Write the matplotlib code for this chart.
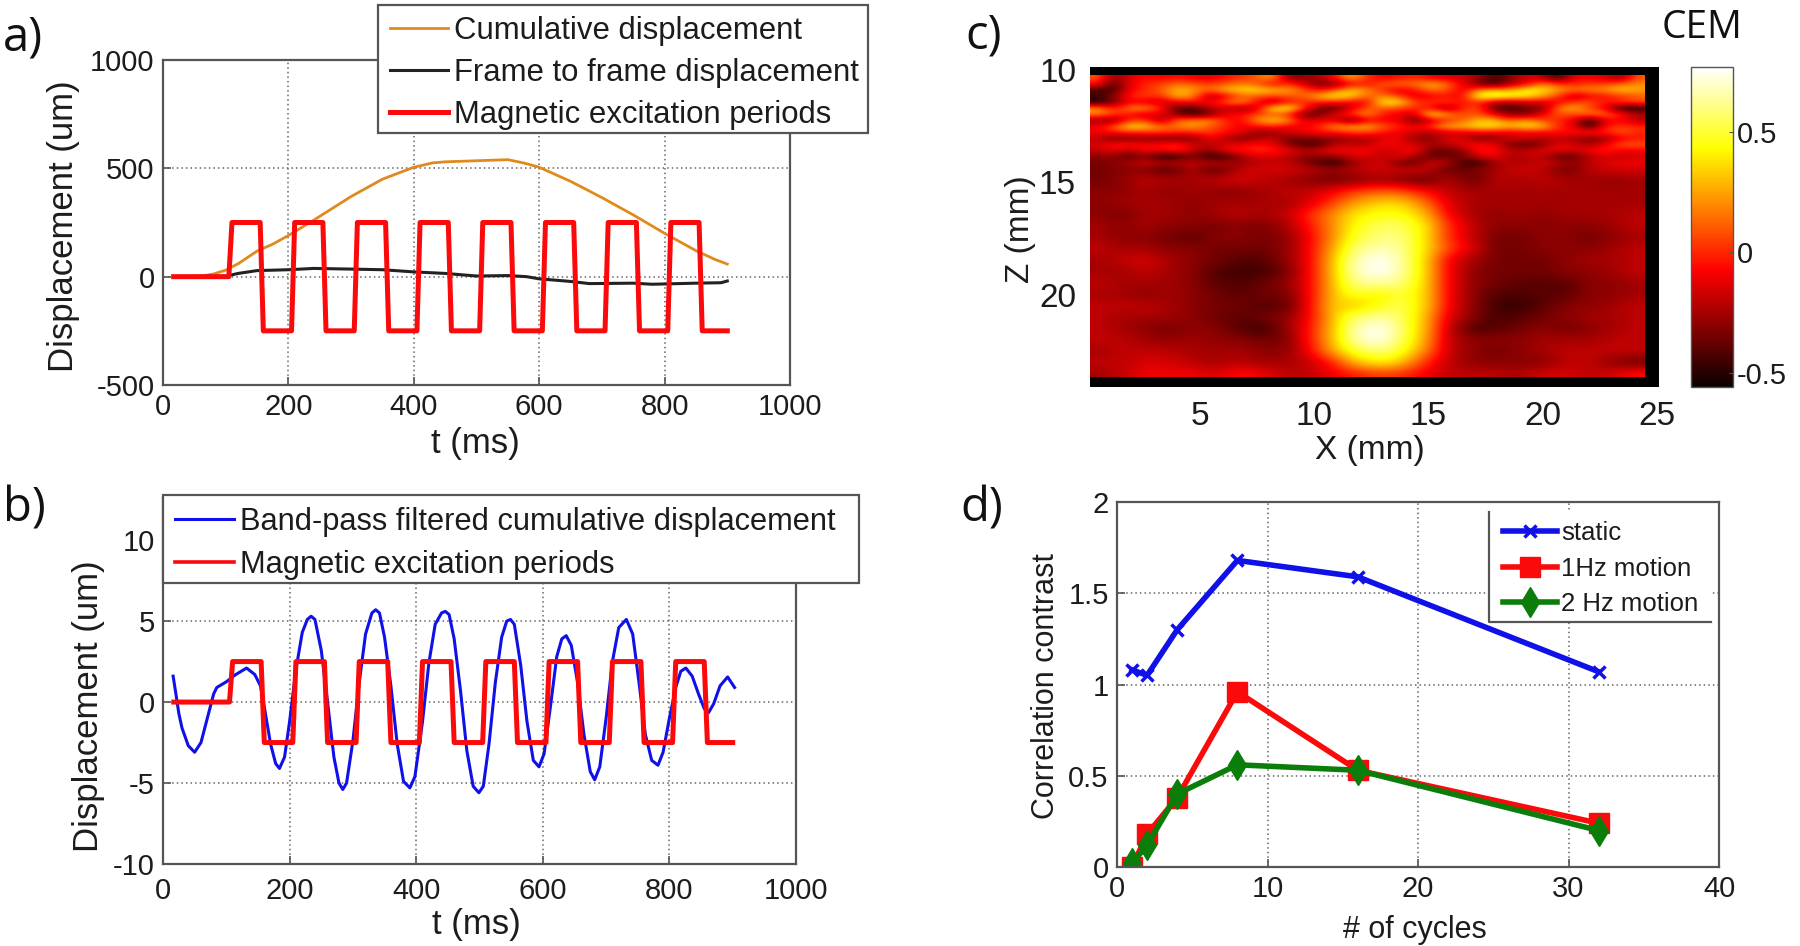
import numpy as np
import matplotlib
matplotlib.use('Agg')
import matplotlib.pyplot as plt
from matplotlib.lines import Line2D
from matplotlib.patches import Rectangle

plt.rcParams['font.family'] = ['Liberation Sans', 'DejaVu Sans']
plt.rcParams['axes.unicode_minus'] = False

W, H = 1800, 946

# panel a
cum_t = [20, 60, 80, 100, 120, 150, 175, 200, 240, 270, 300, 350, 400, 430, 450, 500, 550, 575, 600,
         650, 700, 750, 800, 850, 880, 900]
cum_v = [0, 2, 12, 30, 60, 118, 150, 190, 260, 315, 370, 450, 505, 525, 530, 535, 540, 525, 505,
         440, 365, 285, 200, 120, 80, 58]
frame_t = [20, 100, 120, 150, 200, 240, 300, 350, 400, 450, 500, 550, 580, 600, 650, 680, 750, 780, 850, 890, 900]
frame_v = [0, 2, 15, 28, 32, 38, 35, 32, 22, 15, 3, 5, 0, -10, -22, -32, -30, -35, -30, -28, -20]

# excitation square wave, same timing in a and b
exc_t = [17, 105, 110, 155, 160, 205, 210, 255, 260, 305, 310, 355, 360, 405, 410, 455, 460, 505, 510,
         555, 560, 605, 610, 655, 660, 705, 710, 755, 760, 805, 810, 855, 860, 900]
exc_s = [0, 0, 1, 1, -1, -1, 1, 1, -1, -1, 1, 1, -1, -1, 1, 1, -1, -1, 1,
         1, -1, -1, 1, 1, -1, -1, 1, 1, -1, -1, 1, 1, -1, -1]
exc_amp_a = 250
exc_amp_b = 2.5

# panel b
band_t = [16, 20, 25, 30, 40, 50, 60, 70, 80, 85, 100, 115, 132, 145, 154, 160, 170, 178, 184, 192,
          200, 210, 220, 228, 234, 240, 250, 260, 270, 278, 284, 290, 300, 310, 320, 330, 336, 342,
          350, 360, 370, 380, 390, 398, 410, 420, 430, 440, 446, 452, 460, 470, 480, 490, 499, 506,
          515, 525, 535, 543, 549, 555, 565, 575, 585, 594, 602, 612, 622, 630, 637, 645, 655, 665,
          675, 682, 690, 700, 710, 720, 732, 742, 752, 762, 772, 782, 790, 800, 810, 818, 826, 836,
          846, 855, 862, 870, 880, 892, 903]
band_v = [1.6, 0.6, -0.7, -1.6, -2.7, -3.1, -2.5, -1.0, 0.5, 0.9, 1.25, 1.7, 2.1, 1.7, 1.0, -0.3, -2.6, -3.8, -4.1, -3.4,
          -1.2, 2.0, 4.3, 5.1, 5.3, 5.1, 3.2, 0.0, -3.4, -5.0, -5.4, -5.0, -2.4, 1.2, 4.2, 5.5, 5.7, 5.5,
          4.0, 1.0, -2.6, -4.9, -5.3, -4.6, -1.2, 2.4, 4.8, 5.5, 5.6, 5.4, 3.9, 0.7, -3.0, -5.2, -5.6, -5.2,
          -2.6, 1.2, 4.0, 5.0, 5.1, 4.8, 2.3, -1.2, -3.6, -4.0, -3.2, -0.3, 2.8, 3.9, 4.1, 3.5, 1.2, -2.0,
          -4.3, -4.8, -4.0, -1.0, 2.5, 4.6, 5.1, 4.2, 1.2, -2.0, -3.6, -3.9, -3.1, -1.0, 0.9, 1.9, 2.1, 1.6,
          0.5, -0.4, -0.65, -0.1, 1.0, 1.55, 0.9]

# panel c, CEM. speckle band near the top (Z about 10.2 to 14.2)
cem_top = [
    [.10, -.30, -.15, -.05, -.10, -.05, -.10, -.15, -.05, .00, .10, .25, -.30, -.30, -.20, -.05, .30, .00, -.10, -.05, .00, -.10, -.15, -.15, -.25, -.45, -.30, -.15, -.20, -.50, -.10, -.10, -.15, -.30, .10],
    [-.05, -.45, -.10, .00, .05, .15, .10, .05, .10, .20, .10, -.10, .05, -.15, -.40, -.30, -.10, -.05, .10, .15, .15, .30, .15, -.10, -.35, -.50, -.25, -.10, .20, .05, .00, .05, .05, .15, .20],
    [-.45, -.45, -.10, .00, .10, .30, .25, .10, .30, .35, .40, .30, .25, .10, -.05, .10, .35, .20, .00, -.15, -.05, .15, .10, -.15, .20, .30, .25, .45, .40, .25, .15, .20, .20, .35, .25],
    [-.45, -.30, .00, .05, .00, .30, .20, -.25, -.15, .10, .10, .05, .10, .10, .30, .45, .35, .10, .20, .05, -.15, -.10, -.05, -.10, .50, .55, .50, .40, .25, .05, -.25, -.10, -.05, .00, .10],
    [-.55, -.35, -.10, -.15, -.20, -.10, -.05, -.10, .10, .25, -.05, -.30, -.05, .00, .00, -.05, -.10, -.10, .45, .40, .05, .00, .05, -.05, .00, -.20, -.30, -.15, -.15, -.10, .05, .10, -.05, .05, .10],
    [.25, -.05, .20, .25, .00, -.40, -.45, -.20, -.20, -.30, -.20, .40, .50, .05, -.40, -.40, -.15, .10, .10, .05, .00, -.05, -.35, .00, .10, -.40, -.45, -.35, -.35, .15, .30, .05, -.10, -.55, -.55],
    [.20, .05, -.05, -.20, -.10, -.35, -.50, -.40, -.10, -.05, .05, .10, .00, -.40, -.35, -.10, .05, .25, -.05, -.10, -.20, .45, .25, .05, .10, -.10, -.30, -.35, -.10, .10, .05, .20, .15, .00, -.20],
    [-.30, -.35, .00, .05, -.30, .15, .20, .25, .00, -.10, .20, .35, .25, -.15, -.10, -.15, -.45, -.10, -.10, -.10, -.40, -.20, .00, .10, .30, .30, .10, .25, .05, .00, -.10, -.55, -.10, -.10, -.25],
    [-.10, .10, .40, .35, .15, .15, .25, .10, .00, -.10, -.05, .00, -.10, -.10, .00, .25, .25, .30, .10, .00, -.10, .05, .30, .30, .40, .40, .30, .40, .35, .00, -.10, -.50, -.05, .05, .00],
    [-.10, -.05, .00, .00, .05, .00, .00, .05, -.05, -.10, -.30, -.30, -.15, -.10, -.05, -.05, .05, .05, -.05, -.10, -.15, -.25, -.15, -.15, -.10, -.10, -.15, -.10, -.10, -.05, -.05, .00, .00, .10, .00],
    [-.20, -.35, -.35, -.30, -.35, -.35, -.35, -.10, -.20, -.35, -.25, -.15, -.35, -.35, -.30, -.30, -.25, -.25, -.15, -.10, -.30, -.30, -.15, -.15, -.35, -.30, -.15, -.15, -.20, -.20, -.25, -.35, -.30, -.10, -.05],
    [-.15, -.05, .00, -.10, -.05, .00, -.15, -.20, -.15, -.10, -.05, -.10, -.30, -.45, -.45, -.20, -.20, -.20, -.05, -.10, -.15, -.25, -.20, -.10, -.05, -.10, -.35, -.40, -.35, -.10, -.15, -.25, -.10, .10, .10],
    [-.20, -.10, -.25, -.05, -.10, .00, -.20, -.30, -.10, -.05, .00, .00, -.10, -.20, -.15, -.05, -.10, -.05, -.20, -.15, -.05, -.35, -.40, -.30, -.05, -.05, -.20, -.20, -.10, -.10, -.15, -.10, .00, -.10, -.10],
    [-.30, -.30, -.40, -.30, -.55, -.50, -.30, -.50, -.50, -.25, -.15, -.15, -.20, -.30, -.30, -.30, -.15, -.15, -.20, -.10, -.25, -.40, -.35, -.35, -.15, -.10, -.25, -.20, -.20, -.40, -.40, -.20, -.15, -.20, -.15],
    [-.35, -.30, -.25, -.15, -.20, -.20, -.20, -.20, -.20, -.30, -.20, -.20, -.20, -.30, -.45, -.50, -.30, -.20, -.15, -.35, -.40, -.15, -.20, -.45, -.50, -.25, -.20, -.25, -.15, -.20, -.30, -.20, -.15, -.10, -.10],
]
# rest of the map, Z about 14.2 to 23.6, with the hot spot
cem_low = [
    [-.35, -.30, -.30, -.45, -.20, -.45, -.20, -.15, -.15, -.20, -.30, -.20, -.15, -.20, -.15, -.40, -.35, -.25, -.15, -.20, -.40, -.20, -.15, -.15],
    [-.35, -.30, -.20, -.25, -.25, -.20, -.15, -.20, -.25, -.30, -.35, -.30, -.25, -.30, -.40, -.20, -.40, -.20, -.25, -.20, -.25, -.25, -.30, -.25],
    [-.30, -.30, -.25, -.30, -.25, -.30, -.30, -.25, -.20, -.20, -.10, .05, .12, .08, -.05, -.20, -.25, -.25, -.25, -.25, -.25, -.25, -.25, -.25],
    [-.30, -.25, -.25, -.25, -.30, -.25, -.25, -.25, -.25, -.15, .05, .25, .35, .35, .15, -.15, -.25, -.25, -.25, -.25, -.25, -.25, -.25, -.25],
    [-.30, -.35, -.25, -.25, -.30, -.25, -.20, -.25, -.20, .00, .20, .40, .45, .45, .30, -.10, -.25, -.30, -.25, -.30, -.25, -.25, -.25, -.20],
    [-.25, -.30, -.25, -.30, -.30, -.35, -.30, -.35, -.25, -.05, .20, .45, .55, .55, .40, .00, -.20, -.30, -.30, -.30, -.30, -.30, -.25, -.20],
    [-.25, -.30, -.30, -.35, -.40, -.30, -.30, -.35, -.30, -.10, .20, .50, .60, .60, .38, .00, -.20, -.35, -.35, -.30, -.30, -.35, -.30, -.25],
    [-.20, -.25, -.25, -.30, -.30, -.35, -.35, -.35, -.30, -.10, .25, .60, .68, .62, .38, .05, -.15, -.35, -.35, -.30, -.30, -.30, -.25, -.20],
    [-.25, -.20, -.15, -.25, -.30, -.35, -.40, -.42, -.30, -.10, .30, .68, .77, .65, .35, -.10, -.25, -.35, -.35, -.35, -.30, -.25, -.25, -.20],
    [-.25, -.25, -.20, -.25, -.30, -.42, -.45, -.45, -.35, -.10, .30, .70, .77, .65, .35, -.10, -.30, -.35, -.35, -.35, -.30, -.30, -.25, -.20],
    [-.20, -.25, -.25, -.25, -.30, -.40, -.42, -.38, -.30, -.10, .30, .62, .65, .60, .35, -.10, -.30, -.35, -.40, -.40, -.40, -.30, -.30, -.25],
    [-.25, -.25, -.30, -.25, -.30, -.35, -.40, -.35, -.35, -.10, .30, .50, .40, .52, .35, -.10, -.30, -.42, -.42, -.40, -.40, -.30, -.30, -.25],
    [-.20, -.20, -.20, -.25, -.30, -.35, -.35, -.42, -.40, -.10, .35, .30, .45, .55, .35, -.10, -.30, -.45, -.48, -.40, -.30, -.30, -.25, -.20],
    [-.20, -.25, -.25, -.25, -.30, -.35, -.40, -.35, -.30, -.10, .30, .58, .65, .55, .30, -.15, -.30, -.45, -.40, -.35, -.30, -.25, -.25, -.20],
    [-.20, -.25, -.30, -.35, -.30, -.30, -.40, -.48, -.30, -.05, .30, .68, .77, .58, .28, -.20, -.45, -.40, -.35, -.30, -.35, -.30, -.25, -.20],
    [-.20, -.20, -.25, -.30, -.25, -.30, -.30, -.35, -.35, -.05, .30, .68, .77, .55, .25, -.20, -.30, -.30, -.30, -.25, -.25, -.25, -.20, -.20],
    [-.25, -.20, -.20, -.20, -.25, -.25, -.25, -.30, -.30, -.10, .25, .50, .60, .48, .18, -.20, -.30, -.35, -.30, -.25, -.20, -.20, -.20, -.20],
    [-.20, -.20, -.15, -.15, -.20, -.25, -.20, -.25, -.25, -.20, -.02, .30, .40, .30, .00, -.20, -.30, -.30, -.30, -.30, -.20, -.20, -.30, -.35],
    [-.25, -.20, -.10, -.10, -.10, -.15, -.05, -.10, -.20, -.20, -.10, -.02, .05, .02, -.10, -.20, -.20, -.20, -.25, -.15, -.15, -.20, -.15, -.05],
]

# panel d
cycles = [1, 2, 4, 8, 16, 32]
static = [1.08, 1.05, 1.30, 1.68, 1.59, 1.07]
motion_1hz = [0.0, 0.18, 0.38, 0.96, 0.53, 0.24]
motion_2hz = [0.02, 0.12, 0.40, 0.56, 0.53, 0.20]

FS = 21
LABEL_FS = 25
GREY = '#555555'
TXT = '#1c1c1c'


def px_axes(fig, x0, y0, x1, y1):
    return fig.add_axes([x0 / W, 1 - y1 / H, (x1 - x0) / W, (y1 - y0) / H])


def place_labels(ax, xlabel, xpos, ylabel, ypos, fs=LABEL_FS):
    ax.set_xlabel(xlabel, fontsize=fs, color=TXT, va='center')
    ax.set_ylabel(ylabel, fontsize=fs, color=TXT, va='center')
    ax.xaxis.set_label_coords(xpos[0] / W, 1 - xpos[1] / H, transform=ax.figure.transFigure)
    ax.yaxis.set_label_coords(ypos[0] / W, 1 - ypos[1] / H, transform=ax.figure.transFigure)


def style(ax, xticks, yticks, pad=6):
    ax.set_xticks(xticks)
    ax.set_yticks(yticks)
    ax.grid(True, linestyle=(0, (1, 2)), color='#666666', linewidth=1.1)
    ax.set_axisbelow(True)
    ax.tick_params(direction='in', length=6, width=1.2, color=GREY, labelsize=FS, labelcolor=TXT, pad=pad)
    for s in ax.spines.values():
        s.set_color(GREY)
        s.set_linewidth(1.6)


def boxed_legend(ax, box, x, y, fs, edge=GREY, **kw):
    # white box at fixed pixels, legend entries placed on top of it
    x0, y0, x1, y1 = box
    ax.add_patch(Rectangle((x0 / W, 1 - y1 / H), (x1 - x0) / W, (y1 - y0) / H, transform=ax.figure.transFigure,
                           facecolor='white', edgecolor=edge, linewidth=1.6, clip_on=False, zorder=4.5))
    return ax.legend(loc='upper left', bbox_to_anchor=(x / W, 1 - y / H), bbox_transform=ax.figure.transFigure,
                     fontsize=fs, frameon=False, borderaxespad=0, borderpad=0, labelcolor=TXT, **kw)


def fit_grid(grid, nrows, ncols):
    # put the coarse lower part of the map on the grid of the top band
    grid = np.array(grid)
    r_old, c_old = np.linspace(0, 1, grid.shape[0]), np.linspace(0, 1, grid.shape[1])
    r_new, c_new = np.linspace(0, 1, nrows), np.linspace(0, 1, ncols)
    by_col = np.array([np.interp(c_new, c_old, row) for row in grid])
    return np.array([np.interp(r_new, r_old, col) for col in by_col.T]).T


fig = plt.figure(figsize=(W / 100, H / 100), dpi=100, facecolor='white')

# a)
ax_a = px_axes(fig, 163, 60, 790, 385)
ax_a.plot(cum_t, cum_v, color='#e08a1e', linewidth=2.0, label='Cumulative displacement')
ax_a.plot(frame_t, frame_v, color='#222222', linewidth=2.2, label='Frame to frame displacement')
ax_a.plot(exc_t, np.array(exc_s) * exc_amp_a, color='#fa0a0a', linewidth=3.6, label='Magnetic excitation periods')
ax_a.set_xlim(0, 1000)
ax_a.set_ylim(-500, 1000)
style(ax_a, [0, 200, 400, 600, 800, 1000], [-500, 0, 500, 1000])
place_labels(ax_a, 't (ms)', (475, 443), 'Displacement (um)', (64, 226))
boxed_legend(ax_a, (378, 5, 868, 133), 390, 16, 22.4, labelspacing=0.38, handlelength=1.85, handletextpad=0.2)

# b)
ax_b = px_axes(fig, 163, 498, 796, 864)
ax_b.plot(band_t, band_v, color='#1010e8', linewidth=2.2, label='Band-pass filtered cumulative displacement')
ax_b.plot(exc_t, np.array(exc_s) * exc_amp_b, color='#fa0a0a', linewidth=3.6, label='Magnetic excitation periods')
ax_b.set_xlim(0, 1000)
ax_b.set_ylim(-10, 12.6)
style(ax_b, [0, 200, 400, 600, 800, 1000], [-10, -5, 0, 5, 10], pad=9)
ax_b.tick_params(axis='y', pad=6)
place_labels(ax_b, 't (ms)', (476, 924), 'Displacement (um)', (89, 706))
leg_b = boxed_legend(ax_b, (163, 495, 859, 583), 175, 507, 22.2, labelspacing=0.42, handlelength=1.9, handletextpad=0.2)
leg_b.get_lines()[1].set_linewidth(2.6)

# c)
ax_c = px_axes(fig, 1090, 67, 1659, 387)
ax_c.set_facecolor('black')
cem_map = np.vstack([cem_top, fit_grid(cem_low, 35, 35)])
im = ax_c.imshow(cem_map, cmap='hot', vmin=-0.56, vmax=0.77, aspect='auto', interpolation='bicubic',
                 extent=(0.19, 24.47, 23.64, 10.22))
ax_c.set_xlim(0.2, 25.1)
ax_c.set_ylim(24.1, 9.87)
ax_c.set_xticks([5, 10, 15, 20, 25])
ax_c.set_yticks([10, 15, 20])
ax_c.tick_params(length=0, labelsize=24, labelcolor=TXT, pad=10)
for s in ax_c.spines.values():
    s.set_visible(False)
place_labels(ax_c, 'X (mm)', (1370, 450), 'Z (mm)', (1020, 229), fs=24)

cax = px_axes(fig, 1691, 67, 1733, 387)
cb = fig.colorbar(im, cax=cax, ticks=[-0.5, 0, 0.5])
cb.ax.set_yticklabels(['-0.5', '0', '0.5'])
cb.ax.tick_params(labelsize=FS, labelcolor=TXT, direction='in', length=3, color=GREY, pad=3)
cb.outline.set_edgecolor(GREY)
cb.outline.set_linewidth(1.0)

# d)
ax_d = px_axes(fig, 1117, 502, 1719, 867)
ax_d.plot(cycles, static, color='#1010e8', linewidth=4.0, marker='x', markersize=9, markeredgewidth=2.5, label='static')
ax_d.plot(cycles, motion_1hz, color='#fa0a0a', linewidth=4.0, marker='s', markersize=14, label='1Hz motion')
ax_d.plot(cycles, motion_2hz, color='#0b7d0b', linewidth=4.0, marker='d', markersize=15, label='2 Hz motion')
ax_d.set_xlim(0, 40)
ax_d.set_ylim(0, 2)
style(ax_d, [0, 10, 20, 30, 40], [0, 0.5, 1, 1.5, 2])
ax_d.set_yticklabels(['0', '0.5', '1', '1.5', '2'])
place_labels(ax_d, '# of cycles', (1415, 930), 'Correlation contrast', (1046, 686), fs=22)
boxed_legend(ax_d, (1489, 512, 1711, 622), 1503, 521, 18.5, edge='none', labelspacing=0.45, handlelength=2.1,
             handletextpad=0.15)
fig.add_artist(Line2D([1489 / W, 1489 / W, 1711 / W], [1 - 512 / H, 1 - 622 / H, 1 - 622 / H],
                      color=GREY, linewidth=1.6, zorder=10))

# panel letters and colorbar title
for lab, x, y in [('a)', 3, 38), ('b)', 3, 509), ('c)', 965, 36), ('d)', 960, 509)]:
    fig.text(x / W, 1 - y / H, lab, fontsize=34, color='#111111', family=['Open Sans', 'DejaVu Sans'],
             va='center', ha='left')
fig.text(1702 / W, 1 - 28 / H, 'CEM', fontsize=28, color='#111111', family=['Open Sans', 'DejaVu Sans'],
         va='center', ha='center')

fig.savefig('out.png', dpi=100)
